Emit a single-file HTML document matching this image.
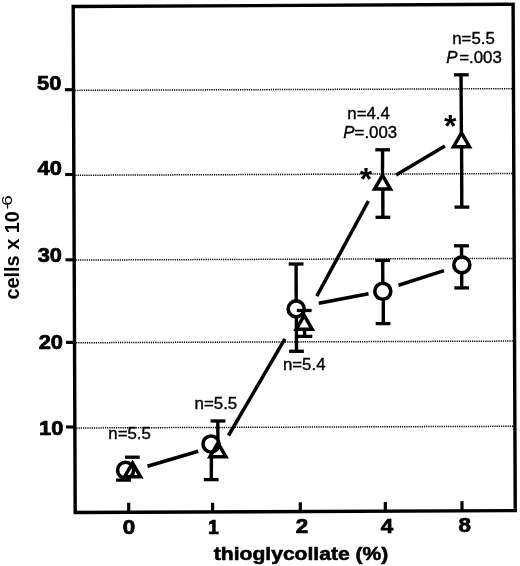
<!DOCTYPE html>
<html><head><meta charset="utf-8"><style>
html,body{margin:0;padding:0;background:#fff;}
svg{display:block;filter:grayscale(1);}
</style></head><body>
<svg width="520" height="566" viewBox="0 0 520 566">
<rect width="520" height="566" fill="#fff"/>
<line x1="75.03" y1="90.39" x2="511.96" y2="88.68" stroke="#000" stroke-width="1.5" stroke-dasharray="1.2 1.0"/>
<line x1="75.37" y1="175.26" x2="512.32" y2="173.55" stroke="#000" stroke-width="1.5" stroke-dasharray="1.2 1.0"/>
<line x1="75.70" y1="260.08" x2="512.68" y2="258.38" stroke="#000" stroke-width="1.5" stroke-dasharray="1.2 1.0"/>
<line x1="76.03" y1="342.76" x2="513.04" y2="341.06" stroke="#000" stroke-width="1.5" stroke-dasharray="1.2 1.0"/>
<line x1="76.36" y1="427.98" x2="513.40" y2="426.28" stroke="#000" stroke-width="1.5" stroke-dasharray="1.2 1.0"/>
<line x1="64.90" y1="89.70" x2="73.53" y2="89.70" stroke="#000" stroke-width="3.1" stroke-linecap="butt" />
<line x1="65.20" y1="174.50" x2="73.86" y2="174.50" stroke="#000" stroke-width="3.1" stroke-linecap="butt" />
<line x1="65.50" y1="259.80" x2="74.20" y2="259.80" stroke="#000" stroke-width="3.1" stroke-linecap="butt" />
<line x1="66.00" y1="342.40" x2="74.53" y2="342.40" stroke="#000" stroke-width="3.1" stroke-linecap="butt" />
<line x1="66.00" y1="427.00" x2="74.86" y2="427.00" stroke="#000" stroke-width="3.1" stroke-linecap="butt" />
<line x1="128.70" y1="502.80" x2="128.70" y2="512.27" stroke="#000" stroke-width="3.2" stroke-linecap="butt" />
<line x1="212.60" y1="502.80" x2="212.60" y2="511.91" stroke="#000" stroke-width="3.2" stroke-linecap="butt" />
<line x1="300.30" y1="502.30" x2="300.30" y2="511.53" stroke="#000" stroke-width="3.2" stroke-linecap="butt" />
<line x1="385.30" y1="502.00" x2="385.30" y2="511.16" stroke="#000" stroke-width="3.2" stroke-linecap="butt" />
<line x1="462.00" y1="501.20" x2="462.00" y2="510.83" stroke="#000" stroke-width="3.2" stroke-linecap="butt" />
<polygon points="73.2,6.5 513.1,4.3 515.25,510.6 75.2,512.5" fill="none" stroke="#000" stroke-width="3.4" stroke-linejoin="miter"/>
<line x1="147.50" y1="466.30" x2="198.20" y2="451.20" stroke="#000" stroke-width="3.5" stroke-linecap="butt" />
<line x1="228.50" y1="435.50" x2="284.90" y2="338.90" stroke="#000" stroke-width="3.5" stroke-linecap="butt" />
<line x1="318.80" y1="303.20" x2="368.50" y2="293.80" stroke="#000" stroke-width="3.5" stroke-linecap="butt" />
<line x1="316.80" y1="296.20" x2="368.40" y2="201.00" stroke="#000" stroke-width="3.5" stroke-linecap="butt" />
<line x1="398.50" y1="285.25" x2="444.00" y2="270.60" stroke="#000" stroke-width="3.5" stroke-linecap="butt" />
<line x1="396.10" y1="174.90" x2="444.90" y2="146.10" stroke="#000" stroke-width="3.5" stroke-linecap="butt" />
<line x1="116.10" y1="480.10" x2="130.90" y2="480.10" stroke="#000" stroke-width="3.3" stroke-linecap="butt" />
<line x1="211.40" y1="452.00" x2="211.30" y2="479.60" stroke="#000" stroke-width="3.4" stroke-linecap="butt" />
<line x1="203.80" y1="479.60" x2="218.60" y2="479.60" stroke="#000" stroke-width="3.3" stroke-linecap="butt" />
<line x1="296.10" y1="264.00" x2="296.20" y2="301.00" stroke="#000" stroke-width="3.4" stroke-linecap="butt" />
<line x1="288.70" y1="264.00" x2="303.50" y2="264.00" stroke="#000" stroke-width="3.3" stroke-linecap="butt" />
<line x1="296.40" y1="317.00" x2="296.50" y2="351.30" stroke="#000" stroke-width="3.4" stroke-linecap="butt" />
<line x1="289.10" y1="351.30" x2="303.90" y2="351.30" stroke="#000" stroke-width="3.3" stroke-linecap="butt" />
<line x1="382.70" y1="260.40" x2="382.80" y2="283.00" stroke="#000" stroke-width="3.4" stroke-linecap="butt" />
<line x1="375.30" y1="260.40" x2="390.10" y2="260.40" stroke="#000" stroke-width="3.3" stroke-linecap="butt" />
<line x1="383.30" y1="299.50" x2="383.30" y2="323.60" stroke="#000" stroke-width="3.4" stroke-linecap="butt" />
<line x1="375.70" y1="323.60" x2="390.50" y2="323.60" stroke="#000" stroke-width="3.3" stroke-linecap="butt" />
<line x1="461.50" y1="245.80" x2="461.60" y2="257.00" stroke="#000" stroke-width="3.4" stroke-linecap="butt" />
<line x1="454.10" y1="245.80" x2="468.90" y2="245.80" stroke="#000" stroke-width="3.3" stroke-linecap="butt" />
<line x1="461.70" y1="273.00" x2="461.70" y2="287.90" stroke="#000" stroke-width="3.4" stroke-linecap="butt" />
<line x1="454.30" y1="287.90" x2="469.10" y2="287.90" stroke="#000" stroke-width="3.3" stroke-linecap="butt" />
<circle cx="125.6" cy="470.2" r="8.0" fill="none" stroke="#000" stroke-width="3.6"/>
<circle cx="211" cy="444" r="8.0" fill="none" stroke="#000" stroke-width="3.6"/>
<circle cx="296.2" cy="308.9" r="8.0" fill="none" stroke="#000" stroke-width="3.6"/>
<circle cx="382.8" cy="291.3" r="8.0" fill="none" stroke="#000" stroke-width="3.6"/>
<circle cx="461.85" cy="264.9" r="8.0" fill="none" stroke="#000" stroke-width="3.6"/>
<line x1="124.90" y1="457.20" x2="139.70" y2="457.20" stroke="#000" stroke-width="3.3" stroke-linecap="butt" />
<line x1="217.80" y1="421.00" x2="217.90" y2="440.00" stroke="#000" stroke-width="3.4" stroke-linecap="butt" />
<line x1="210.60" y1="421.00" x2="225.40" y2="421.00" stroke="#000" stroke-width="3.3" stroke-linecap="butt" />
<line x1="296.80" y1="310.50" x2="311.60" y2="310.50" stroke="#000" stroke-width="3.3" stroke-linecap="butt" />
<line x1="304.50" y1="329.00" x2="304.60" y2="336.40" stroke="#000" stroke-width="3.4" stroke-linecap="butt" />
<line x1="297.50" y1="336.40" x2="312.30" y2="336.40" stroke="#000" stroke-width="3.3" stroke-linecap="butt" />
<line x1="382.60" y1="149.80" x2="382.50" y2="175.00" stroke="#000" stroke-width="3.4" stroke-linecap="butt" />
<line x1="375.30" y1="149.80" x2="390.10" y2="149.80" stroke="#000" stroke-width="3.3" stroke-linecap="butt" />
<line x1="382.80" y1="189.00" x2="382.90" y2="217.30" stroke="#000" stroke-width="3.4" stroke-linecap="butt" />
<line x1="375.50" y1="217.30" x2="390.30" y2="217.30" stroke="#000" stroke-width="3.3" stroke-linecap="butt" />
<line x1="461.00" y1="74.80" x2="461.40" y2="133.00" stroke="#000" stroke-width="3.4" stroke-linecap="butt" />
<line x1="453.90" y1="74.80" x2="468.70" y2="74.80" stroke="#000" stroke-width="3.3" stroke-linecap="butt" />
<line x1="461.60" y1="147.00" x2="461.80" y2="207.10" stroke="#000" stroke-width="3.4" stroke-linecap="butt" />
<line x1="454.50" y1="207.10" x2="469.30" y2="207.10" stroke="#000" stroke-width="3.3" stroke-linecap="butt" />
<polygon points="132.50,462.98 140.45,476.75 124.55,476.75" fill="none" stroke="#000" stroke-width="3.5" stroke-linejoin="miter"/>
<polygon points="217.90,442.88 225.85,456.65 209.95,456.65" fill="none" stroke="#000" stroke-width="3.5" stroke-linejoin="miter"/>
<polygon points="304.20,315.48 312.15,329.25 296.25,329.25" fill="none" stroke="#000" stroke-width="3.5" stroke-linejoin="miter"/>
<polygon points="382.50,175.28 390.45,189.05 374.55,189.05" fill="none" stroke="#000" stroke-width="3.5" stroke-linejoin="miter"/>
<polygon points="461.50,132.98 469.45,146.75 453.55,146.75" fill="none" stroke="#000" stroke-width="3.5" stroke-linejoin="miter"/>
<text x="365.9" y="189.5" font-family="Liberation Sans, sans-serif" font-weight="bold" font-size="32" text-anchor="middle">*</text>
<text x="450.15" y="137.0" font-family="Liberation Sans, sans-serif" font-weight="bold" font-size="32" text-anchor="middle">*</text>
<g font-family="Liberation Sans, sans-serif" fill="#000"><text transform="translate(61.3 90) scale(1.12 1)" font-size="19.5" font-weight="bold" text-anchor="end" stroke="#000" stroke-width="0.7">50</text>
<text transform="translate(61.8 175.4) scale(1.12 1)" font-size="19.5" font-weight="bold" text-anchor="end" stroke="#000" stroke-width="0.7">40</text>
<text transform="translate(62 262) scale(1.12 1)" font-size="19.5" font-weight="bold" text-anchor="end" stroke="#000" stroke-width="0.7">30</text>
<text transform="translate(63 348.5) scale(1.12 1)" font-size="19.5" font-weight="bold" text-anchor="end" stroke="#000" stroke-width="0.7">20</text>
<text transform="translate(63.3 434.5) scale(1.12 1)" font-size="19.5" font-weight="bold" text-anchor="end" stroke="#000" stroke-width="0.7">10</text>
<text transform="translate(128.9 534) scale(1.15 1)" font-size="19.5" font-weight="bold" text-anchor="middle" stroke="#000" stroke-width="0.7">0</text>
<text transform="translate(213.5 534) scale(1.0 1)" font-size="19.5" font-weight="bold" text-anchor="middle" stroke="#000" stroke-width="0.7">1</text>
<text transform="translate(301.9 533) scale(1.15 1)" font-size="19.5" font-weight="bold" text-anchor="middle" stroke="#000" stroke-width="0.7">2</text>
<text transform="translate(386.9 532.5) scale(1.15 1)" font-size="19.5" font-weight="bold" text-anchor="middle" stroke="#000" stroke-width="0.7">4</text>
<text transform="translate(464.8 532.4) scale(1.15 1)" font-size="19.5" font-weight="bold" text-anchor="middle" stroke="#000" stroke-width="0.7">8</text>
<text x="213.8" y="559.9" font-size="18.8" font-weight="bold" stroke="#000" stroke-width="0.6" textLength="174.5" lengthAdjust="spacingAndGlyphs">thioglycollate (%)</text>
<g transform="translate(18.8 299.6) rotate(-90)"><text font-size="21" font-weight="bold" textLength="88.5" lengthAdjust="spacingAndGlyphs">cells x 10</text><text transform="translate(90.1 -6.6) scale(1.3 1)" font-size="14.5">-<tspan dx="-2.0">6</tspan></text></g>
<text transform="translate(108.3 438.5) scale(1.04 1)" font-size="16.2" text-anchor="start" stroke="#000" stroke-width="0.35">n=5.5</text>
<text transform="translate(194.6 409) scale(1.04 1)" font-size="16.2" text-anchor="start" stroke="#000" stroke-width="0.35">n=5.5</text>
<text transform="translate(282.9 370.2) scale(1.04 1)" font-size="16.2" text-anchor="start" stroke="#000" stroke-width="0.35">n=5.4</text>
<text transform="translate(347.3 119) scale(1.04 1)" font-size="16.2" text-anchor="start" stroke="#000" stroke-width="0.35">n=4.4</text>
<text transform="translate(343.3 137.8) scale(1.04 1)" font-size="16.2" text-anchor="start" stroke="#000" stroke-width="0.35"><tspan font-style="italic">P</tspan>=.003</text>
<text transform="translate(452.2 43.5) scale(1.04 1)" font-size="16.2" text-anchor="start" stroke="#000" stroke-width="0.35">n=5.5</text>
<text transform="translate(446.3 62.6) scale(1.04 1)" font-size="16.2" text-anchor="start" stroke="#000" stroke-width="0.35"><tspan font-style="italic">P</tspan><tspan dx="1.6">=.003</tspan></text></g>
</svg>
</body></html>
